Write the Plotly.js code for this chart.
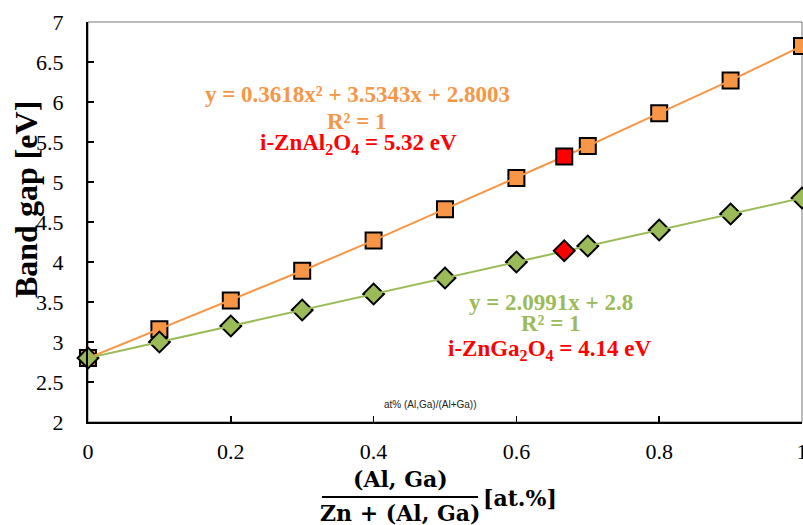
<!DOCTYPE html>
<html>
<head>
<meta charset="utf-8">
<script src="https://cdn.plot.ly/plotly-3.0.1.min.js"></script>
<style>html,body{margin:0;padding:0;background:#fff;}#chart{width:803px;height:525px;}</style>
</head>
<body>
<div id="chart"></div>
<script>
// Data
var ratio = [0, 0.1, 0.2, 0.3, 0.4, 0.5, 0.6, 0.7, 0.8, 0.9, 1.0];
var gapAl = [2.80, 3.16, 3.52, 3.89, 4.27, 4.66, 5.05, 5.45, 5.86, 6.27, 6.70];
var gapGa = [2.80, 3.00, 3.20, 3.40, 3.60, 3.80, 4.00, 4.20, 4.40, 4.60, 4.80];
var spinelX = [0.667];
var spinelAl = [5.32];
var spinelGa = [4.14];
var yTicks = [2, 2.5, 3, 3.5, 4, 4.5, 5, 5.5, 6, 6.5, 7];
var yTickText = ["2", "2.5", "3", "3.5", "4", "4.5", "5", "5.5", "6", "6.5", "7"];
var xTicks = [0, 0.2, 0.4, 0.6, 0.8, 1];
var xTickText = ["0", "0.2", "0.4", "0.6", "0.8", "1"];

var ORANGE = "#F79646", GREEN = "#9BBB59", RED = "#FF0000";
var SERIF = "Liberation Serif, Times New Roman, serif";

var traces = [
  {x: ratio, y: gapAl, mode: "markers", type: "scatter", cliponaxis: false,
   marker: {symbol: "square", size: 16, color: ORANGE, line: {color: "#000", width: 2}}},
  {x: ratio, y: gapGa, mode: "markers", type: "scatter", cliponaxis: false,
   marker: {symbol: "diamond", size: 16, color: GREEN, line: {color: "#000", width: 2}}},
  {x: ratio, y: gapAl, mode: "lines", type: "scatter", line: {color: ORANGE, width: 2}},
  {x: ratio, y: gapGa, mode: "lines", type: "scatter", line: {color: GREEN, width: 2}},
  {x: spinelX, y: spinelAl, mode: "markers", type: "scatter", cliponaxis: false,
   marker: {symbol: "square", size: 16, color: RED, line: {color: "#000", width: 2}}},
  {x: spinelX, y: spinelGa, mode: "markers", type: "scatter", cliponaxis: false,
   marker: {symbol: "diamond", size: 16, color: RED, line: {color: "#000", width: 2}}}
];

function ann(text, x, y, color, size, family, extra) {
  var a = {text: text, x: x, y: y, xref: "paper", yref: "paper", showarrow: false,
           xanchor: "center", yanchor: "middle", font: {color: color, size: size, family: family}};
  if (extra) for (var k in extra) a[k] = extra[k];
  return a;
}

var layout = {
  width: 803, height: 525,
  margin: {l: 88, r: 1, t: 22, b: 103},
  paper_bgcolor: "#fff", plot_bgcolor: "#fff",
  showlegend: false,
  xaxis: {range: [0, 1], tickvals: xTicks, ticktext: xTickText, ticks: "inside", ticklen: 6,
          tickwidth: 1.5, tickcolor: "#000", showgrid: false, zeroline: false, showline: true,
          linecolor: "#000", linewidth: 2, ticklabelstandoff: 9, ticklabeloverflow: "allow",
          tickfont: {family: SERIF, size: 22, color: "#000"}},
  yaxis: {range: [2, 7], tickvals: yTicks, ticktext: yTickText, ticks: "inside", ticklen: 6,
          tickwidth: 1.5, tickcolor: "#000", showgrid: false, zeroline: false, showline: true,
          linecolor: "#000", linewidth: 2, ticklabelstandoff: 18, ticklabeloverflow: "allow",
          tickfont: {family: SERIF, size: 22, color: "#000"}},
  shapes: [
    {type: "rect", xref: "paper", yref: "paper", x0: 0, x1: 1, y0: 0, y1: 1,
     line: {color: "#777", width: 1}, layer: "below"},
    {type: "line", xref: "paper", yref: "paper", x0: 0.3277, x1: 0.5462, y0: -0.1875, y1: -0.1875,
     line: {color: "#000", width: 2}}
  ],
  annotations: [
    ann("<b>y = 0.3618x² + 3.5343x + 2.8003</b>", 0.3768, 0.82, ORANGE, 23, SERIF),
    ann("<b>R² = 1</b>", 0.3768, 0.7525, ORANGE, 23, SERIF),
    ann("<b>i-ZnAl<sub>2</sub>O<sub>4</sub> = 5.32 eV</b>", 0.3782, 0.695, RED, 23, SERIF),
    ann("<b>y = 2.0991x + 2.8</b>", 0.6485, 0.3, GREEN, 23, SERIF),
    ann("<b>R² = 1</b>", 0.6485, 0.2475, GREEN, 23, SERIF),
    ann("<b>i-ZnGa<sub>2</sub>O<sub>4</sub> = 4.14 eV</b>", 0.647, 0.18, RED, 23, SERIF),
    ann("at% (Al,Ga)/(Al+Ga))", 0.479, 0.045, "#222", 10, "Liberation Sans, Arial, sans-serif"),
    ann("<b>Band gap [eV]</b>", -0.0868, 0.555, "#000", 32, SERIF, {textangle: -90}),
    ann("<b>(Al, Ga)</b>", 0.4370, -0.1425, "#000", 22, "DejaVu Serif, serif"),
    ann("<b>Zn + (Al, Ga)</b>", 0.4370, -0.228, "#000", 22, "DejaVu Serif, serif"),
    ann("<b>[at.%]</b>", 0.605, -0.19, "#000", 22, "DejaVu Serif, serif")
  ]
};

Plotly.newPlot("chart", traces, layout, {staticPlot: true, displayModeBar: false});
</script>
</body>
</html>
